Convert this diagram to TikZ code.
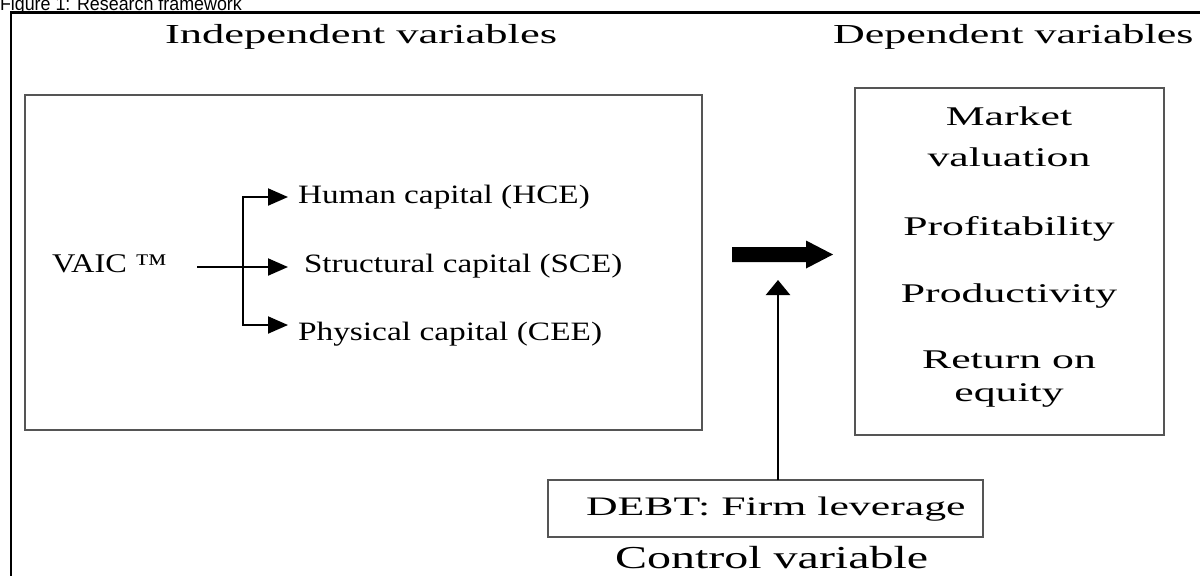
\documentclass[tikz,border=0pt]{standalone}
\usepackage{fontspec}
\setmainfont{Liberation Serif}
\newfontfamily\capfont{Liberation Sans}
\usetikzlibrary{arrows.meta}
\definecolor{boxgray}{HTML}{555555}
\newcommand{\tx}[3]{\scalebox{#1}[1]{\fontsize{#2}{#2}\selectfont #3}}
\begin{document}
\begin{tikzpicture}[x=0.5pt,y=-0.5pt,
  lbl/.style={inner sep=0pt, outer sep=0pt, text=black},
  frame/.style={draw=black, line width=1.25pt},
  box/.style={draw=boxgray, line width=1.2pt, inner sep=0pt, outer sep=0pt, anchor=north west},
  link/.style={draw=black, line width=1pt, -{Triangle[length=10pt,width=8.5pt]}},
  ctrl/.style={draw=black, line width=1.2pt, -{Triangle[length=7.5pt,width=12pt]}}
]
\useasboundingbox (0,0) rectangle (1200,575);
\clip (0,0) rectangle (1200,575);
\fill[white] (0,0) rectangle (1200,575);

% caption (cut off at the top edge, as in the reference)
\node[lbl, anchor=base west] (title) at (0,10.5) {\scalebox{0.94}[1]{\capfont\fontsize{9.5pt}{10pt}\selectfont Figure 1: Research framework}};

% outer frame (only top and left visible)
\draw[frame] (11,600) |- (1220,12.5);

% headings
\node[lbl, anchor=base west] (indep) at (165,43) {\tx{1.62}{13.75pt}{Independent variables}};
\node[lbl, anchor=base west] (dep) at (833,43) {\tx{1.6}{13.75pt}{Dependent variables}};

% boxes
\node[box, minimum width=338.5pt, minimum height=167.5pt] (ivbox) at (25,95) {};
\node[box, minimum width=154.5pt, minimum height=173.5pt] (dvbox) at (855,88) {};
\node[box, minimum width=217.5pt, minimum height=28.5pt] (debt) at (548,480) {};

% left box content
\node[lbl, anchor=base west] (vaic) at (52,272) {\tx{1.2}{13.5pt}{VAIC ™}};
\node[lbl, anchor=base west] (hce) at (298,203) {\tx{1.255}{13.25pt}{Human capital (HCE)}};
\node[lbl, anchor=base west] (sce) at (304,272) {\tx{1.25}{13.25pt}{Structural capital (SCE)}};
\node[lbl, anchor=base west] (cee) at (298,340) {\tx{1.26}{13.25pt}{Physical capital (CEE)}};

\coordinate (vs) at (197,267);
\coordinate (jt) at (243,197);
\coordinate (jb) at (243,325);
\coordinate (tH) at (288,197);
\coordinate (tS) at (288,267);
\coordinate (tP) at (288,325);
\draw[link] (vs) -- (tS);
\draw[link] (jb) |- (tH);
\draw[link] (jt) |- (tP);

% thick arrow
\fill[black] (732,247) -- (806,247) -- (806,240.5) -- (833,254.5) -- (806,268.5) -- (806,262) -- (732,262) -- cycle;

% dependent variables
\node[lbl, anchor=base] (mkt1) at (1009,125) {\tx{1.62}{13.5pt}{Market}};
\node[lbl, anchor=base] (mkt2) at (1009,166) {\tx{1.62}{13.5pt}{valuation}};
\node[lbl, anchor=base] (prof) at (1009,235) {\tx{1.62}{13.5pt}{Profitability}};
\node[lbl, anchor=base] (prod) at (1009,302) {\tx{1.62}{13.5pt}{Productivity}};
\node[lbl, anchor=base] (roe1) at (1009,368) {\tx{1.62}{13.5pt}{Return on}};
\node[lbl, anchor=base] (roe2) at (1009,401) {\tx{1.62}{13.5pt}{equity}};

% control
\node[lbl, anchor=base west] (debttxt) at (586,515) {\tx{1.64}{13.35pt}{DEBT: Firm leverage}};
\node[lbl, anchor=base west] (ctrltxt) at (615,568) {\tx{1.5}{16pt}{Control variable}};
\coordinate (ctip) at (778,280);
\draw[ctrl] (ctip |- debt.north) -- (ctip);
\end{tikzpicture}
\end{document}
